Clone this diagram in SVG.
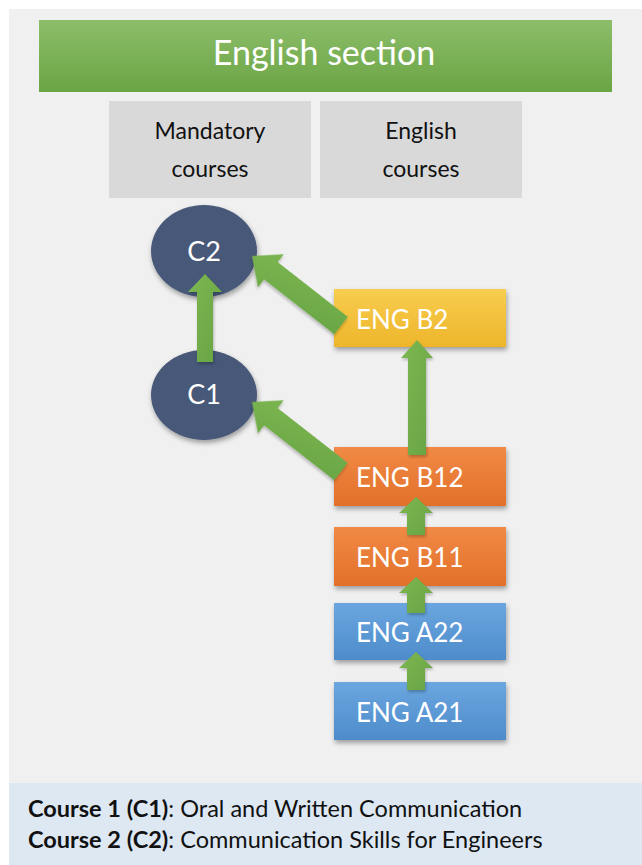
<svg xmlns="http://www.w3.org/2000/svg" width="642" height="865" viewBox="0 0 642 865">
<defs>
<linearGradient id="gGreen" x1="0" y1="0" x2="0" y2="1"><stop offset="0" stop-color="#8dbd6a"/><stop offset="1" stop-color="#6aa544"/></linearGradient>
<linearGradient id="gYellow" x1="0" y1="0" x2="0" y2="1"><stop offset="0" stop-color="#f8cd50"/><stop offset="1" stop-color="#eeb52a"/></linearGradient>
<linearGradient id="gOrange" x1="0" y1="0" x2="0" y2="1"><stop offset="0" stop-color="#f08a45"/><stop offset="1" stop-color="#e2702a"/></linearGradient>
<linearGradient id="gBlue" x1="0" y1="0" x2="0" y2="1"><stop offset="0" stop-color="#6ba6df"/><stop offset="1" stop-color="#4d8ccb"/></linearGradient>
<linearGradient id="gArrow" x1="0" y1="0" x2="1" y2="1"><stop offset="0" stop-color="#7cb752"/><stop offset="1" stop-color="#68a443"/></linearGradient>
<filter id="sh" x="-20%" y="-20%" width="140%" height="150%"><feDropShadow dx="1" dy="3" stdDeviation="2.5" flood-color="#000" flood-opacity="0.35"/></filter>
<filter id="shs" x="-20%" y="-20%" width="140%" height="150%"><feDropShadow dx="1" dy="2" stdDeviation="1.5" flood-color="#000" flood-opacity="0.25"/></filter>
</defs>
<style>
text{font-family:Lato,"Open Sans","Liberation Sans",sans-serif}
.w{fill:#fff}
.hdr{font-size:23px;fill:#111;text-anchor:middle}
.box{font-size:26px;fill:#fff}
.c{font-size:27px;fill:#fff;text-anchor:middle}
.arr{fill:url(#gArrow);filter:url(#shs)}
.leg{font-size:23.5px;fill:#111}
</style>
<rect x="0" y="0" width="642" height="865" fill="#ffffff"/>
<rect x="9" y="9" width="633" height="856" fill="#f0f0f0"/>
<rect x="9" y="783" width="633" height="82" fill="#dde8f3"/>

<g id="banner">
<rect x="39" y="20" width="573" height="72" fill="url(#gGreen)"/>
<text x="324" y="65" class="w" font-size="34" text-anchor="middle">English section</text>
</g>
<g id="hdr-mandatory">
<rect x="109" y="101" width="202" height="97" fill="#d9d9d9"/>
<text x="210" y="139" class="hdr">Mandatory</text>
<text x="210" y="177" class="hdr">courses</text>
</g>
<g id="hdr-english">
<rect x="320" y="101" width="202" height="97" fill="#d9d9d9"/>
<text x="421" y="139" class="hdr">English</text>
<text x="421" y="177" class="hdr">courses</text>
</g>

<g id="C2">
<ellipse cx="204" cy="251" rx="53" ry="46" fill="#475978" filter="url(#sh)"/>
<text x="204" y="261" class="c">C2</text>
</g>
<g id="C1">
<ellipse cx="204" cy="395" rx="53" ry="45" fill="#475978" filter="url(#sh)"/>
<text x="204" y="404" class="c">C1</text>
</g>
<g id="ENG_B2">
<rect x="334" y="289" width="172" height="58" fill="url(#gYellow)" filter="url(#sh)"/>
<text x="356" y="329" class="box">ENG B2</text>
</g>
<g id="ENG_B12">
<rect x="334" y="447" width="172" height="59" fill="url(#gOrange)" filter="url(#sh)"/>
<text x="356" y="487" class="box">ENG B12</text>
</g>
<g id="ENG_B11">
<rect x="334" y="527" width="172" height="59" fill="url(#gOrange)" filter="url(#sh)"/>
<text x="356" y="567" class="box">ENG B11</text>
</g>
<g id="ENG_A22">
<rect x="334" y="603" width="172" height="57" fill="url(#gBlue)" filter="url(#sh)"/>
<text x="356" y="642" class="box">ENG A22</text>
</g>
<g id="ENG_A21">
<rect x="334" y="682" width="172" height="58" fill="url(#gBlue)" filter="url(#sh)"/>
<text x="356" y="722" class="box">ENG A21</text>
</g>

<g id="connectors">
<!-- C1 -> C2 -->
<polygon class="arr" points="205,274 222,292 213,292 213,362 197,362 197,292 188,292"/>
<!-- B12 -> B2 -->
<polygon class="arr" points="417,340 433,358 426,358 426,455 408,455 408,358 401,358"/>
<!-- B11 -> B12 -->
<polygon class="arr" points="416,497 433,513 425,513 425,535 407,535 407,513 399,513"/>
<!-- A22 -> B11 -->
<polygon class="arr" points="416,577 433,593 425,593 425,613 407,613 407,593 399,593"/>
<!-- A21 -> A22 -->
<polygon class="arr" points="416,652 433,668 425,668 425,690 407,690 407,668 399,668"/>
<!-- B2 -> C2 -->
<polygon class="arr" transform="translate(252,256) rotate(38)" points="0,0 24,-21 24,-11 113,-11 113,11 24,11 24,21"/>
<!-- B12 -> C1 -->
<polygon class="arr" transform="translate(252,402) rotate(38)" points="0,0 24,-21 24,-11 113,-11 113,11 24,11 24,21"/>
</g>

<g id="legend">
<text x="28" y="817" class="leg"><tspan font-weight="bold">Course 1 (C1)</tspan>: Oral and Written Communication</text>
<text x="28" y="848" class="leg"><tspan font-weight="bold">Course 2 (C2)</tspan>: Communication Skills for Engineers</text>
</g>
</svg>
